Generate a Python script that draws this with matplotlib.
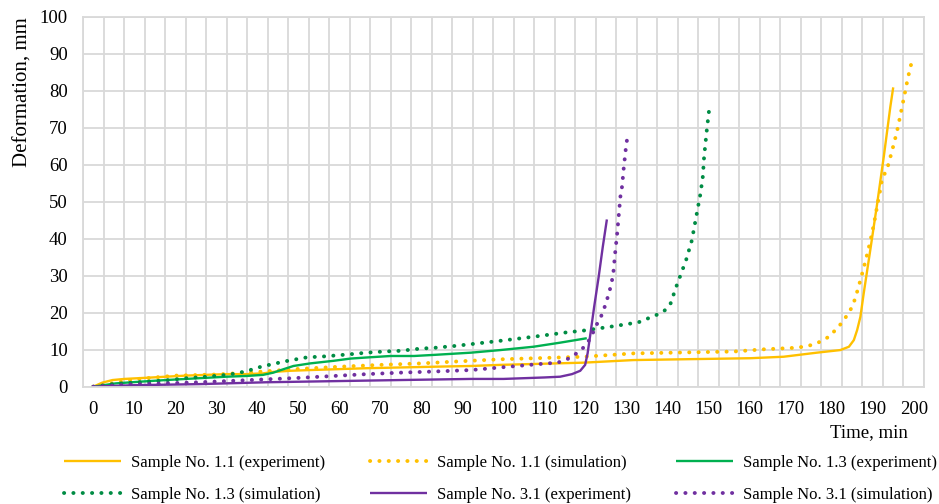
import matplotlib
matplotlib.use("Agg")
import matplotlib.pyplot as plt
import numpy as np
from matplotlib.lines import Line2D

plt.rcParams['font.family'] = ['Liberation Serif', 'DejaVu Serif']

# Sample No. 1.1 (experiment)
t_11_exp = [0, 2.2, 4.7, 7.6, 12.8, 17.7, 22.6, 27.5, 32.4, 37.3, 41.4, 43.9, 48, 52.9, 58.6,
            66.7, 74.9, 83.1, 92.1, 99.2, 119.6, 131.7, 160.2, 168.3, 176.4, 182.1, 184.2,
            185.4, 186.2, 187.0, 187.8, 189.4, 191.1, 192.7, 194.3, 195.0]
d_11_exp = [0, 1.1, 1.8, 2.1, 2.4, 2.7, 3.0, 3.2, 3.4, 3.4, 3.6, 4.0, 4.3, 4.5, 4.7,
            5.0, 5.2, 5.4, 5.6, 5.9, 6.5, 7.2, 7.7, 8.1, 9.2, 9.9, 10.8,
            12.6, 15.3, 18.9, 25.2, 36.9, 49.6, 62.2, 75.7, 80.9]

# Sample No. 1.1 (simulation)
t_11_sim = [0, 10, 20, 30, 40, 50, 60, 70, 80, 90, 99.2, 119.6, 131.7, 156.1, 163.4, 170.8,
            173.2, 175.2, 177.3, 179.3, 180.9, 182.5, 183.8, 185.0, 185.8, 187.0, 188.2,
            189.3, 190.3, 191.1, 191.9, 192.3, 193.5, 194.7, 195.9, 196.8, 197.7, 198.6, 199.7]
d_11_sim = [0, 2.0, 3.0, 3.3, 4.0, 4.8, 5.4, 5.9, 6.3, 6.9, 7.4, 8.1, 9.0, 9.5, 10.1, 10.5,
            10.8, 11.3, 12.2, 13.5, 15.3, 17.3, 19.4, 21.6, 24.1, 28.8, 33.8,
            38.8, 44.0, 48.9, 53.6, 56.3, 58.8, 63.7, 68.9, 73.7, 78.6, 83.6, 88.7]

# Sample No. 1.3 (experiment)
t_13_exp = [0, 5.5, 12, 17.7, 22.6, 27.5, 32.4, 37.3, 41.4, 43.9, 46.3, 48.8, 52.9, 58.6,
            62.7, 66.7, 72.5, 78.2, 83.1, 92.1, 99.2, 107.3, 113.8, 120.3]
d_13_exp = [0, 0.9, 1.4, 1.8, 2.1, 2.4, 2.7, 2.9, 3.2, 3.8, 4.7, 5.6, 6.3, 7.0,
            7.6, 7.9, 8.3, 8.3, 8.6, 9.2, 9.9, 10.8, 11.9, 13.1]

# Sample No. 1.3 (simulation)
t_13_sim = [0, 4.7, 9.6, 13.7, 18.5, 22.6, 27.5, 32.4, 34.9, 37.3, 39.8, 41.4, 43.9, 46.3,
            48.8, 50.4, 52.9, 55.3, 58.6, 61.9, 66.7, 70.8, 74.9, 79.8, 83.1, 88, 92.1,
            99.2, 107.3, 115.5, 119.1, 126.0, 132.9, 137.3, 139.2, 140.7, 142.1, 144.5,
            145.9, 147.2, 148.0, 148.6, 148.9, 149.6, 150.2]
d_13_sim = [0, 0.7, 1.1, 1.4, 1.8, 2.3, 2.7, 3.2, 3.6, 4.2, 5.0, 5.6, 6.1, 6.8,
            7.2, 7.7, 8.0, 8.1, 8.4, 8.7, 9.2, 9.5, 9.7, 10.3, 10.5, 11.0, 11.5,
            12.4, 13.5, 14.7, 15.1, 16.2, 17.4, 19.4, 20.5, 22.4, 27.0, 34.2,
            39.5, 47.3, 52.1, 56.9, 62.2, 69.8, 75.6]

# Sample No. 3.1 (experiment)
t_31_exp = [0, 9.6, 25.9, 42.2, 58.6, 74.9, 92.1, 100, 105, 110, 113.8, 116.7, 118.7, 119.9,
            120.5, 121.2, 122.1, 123.2, 124.2, 125.2]
d_31_exp = [0, 0.4, 0.7, 1.2, 1.5, 1.8, 2.1, 2.1, 2.3, 2.5, 2.7, 3.4, 4.3, 5.9,
            9.0, 14.4, 21.6, 29.7, 37.8, 45.2]

# Sample No. 3.1 (simulation)
t_31_sim = [0, 9.6, 17.7, 25.9, 34.1, 42.2, 50.4, 58.6, 66.7, 74.9, 83.1, 92.1, 99.2, 108.5,
            113.2, 115.5, 117.3, 119.1, 120.5, 121.6, 122.4, 123.6, 124.4, 125.2, 125.9,
            126.4, 126.8, 127.2, 127.7, 128.1, 128.5, 128.9, 129.3, 129.8, 130.1]
d_31_sim = [0, 0.6, 0.9, 1.2, 1.6, 2.0, 2.4, 2.9, 3.4, 3.8, 4.1, 4.5, 5.2, 6.1,
            6.5, 7.4, 8.6, 10.1, 11.9, 14.0, 16.2, 18.5, 20.7, 23.4, 26.1,
            28.4, 31.1, 36.0, 41.3, 46.4, 51.4, 54.1, 59.0, 64.2, 66.7]

x_ticks = list(range(0, 201, 10))
y_ticks = list(range(0, 101, 10))

YELLOW = "#FFC000"
GREEN = "#00B050"
GREEN_DARK = "#008C44"
PURPLE = "#7030A0"

fig = plt.figure(figsize=(9.39, 5.04), dpi=100)
ax = fig.add_axes([83 / 939, 1 - 386.7 / 504, (924 - 83) / 939, (386.7 - 16.7) / 504])

solid_kw = dict(lw=1.7, solid_joinstyle='round', solid_capstyle='butt')
dot_kw = dict(lw=2.8, linestyle=(0, (0.05, 2.35)), dash_capstyle='round')

series = [
    (t_11_exp, d_11_exp, YELLOW, solid_kw, "Sample No. 1.1 (experiment)"),
    (t_11_sim, d_11_sim, YELLOW, dot_kw, "Sample No. 1.1 (simulation)"),
    (t_13_exp, d_13_exp, GREEN, solid_kw, "Sample No. 1.3 (experiment)"),
    (t_13_sim, d_13_sim, GREEN_DARK, dot_kw, "Sample No. 1.3 (simulation)"),
    (t_31_exp, d_31_exp, PURPLE, solid_kw, "Sample No. 3.1 (experiment)"),
    (t_31_sim, d_31_sim, PURPLE, dot_kw, "Sample No. 3.1 (simulation)"),
]
handles, labels = [], []
for t, d, c, kw, name in series:
    ax.plot(t, d, color=c, **kw)
    handles.append(Line2D([], [], color=c, **kw))
    labels.append(name)

ax.set_xlim(-2.5, 202.5)
ax.set_ylim(0, 100)
ax.set_xticks(x_ticks)
ax.set_xticklabels([str(v) for v in x_ticks])
ax.set_xticks(np.arange(-2.5, 203, 5), minor=True)
ax.set_yticks(y_ticks)
ax.tick_params(axis='both', which='both', length=0, labelsize=13.5)
ax.tick_params(axis='x', pad=10)
ax.tick_params(axis='y', pad=11)
ax.grid(False)
ax.grid(True, which='minor', axis='x', color='#D9D9D9', lw=1.3)
ax.grid(True, which='major', axis='y', color='#D9D9D9', lw=1.3)
ax.set_axisbelow(True)
for s in ax.spines.values():
    s.set_color('#D9D9D9')
    s.set_linewidth(1.3)

ax.set_ylabel("Deformation, mm", fontsize=15)
ax.yaxis.set_label_coords(-0.0595, 0.797)
fig.text(908 / 939, 1 - 433 / 504, "Time, min", fontsize=13.5, ha='right', va='center')

# legend fills column by column; reorder so entries read row by row
order = [0, 3, 1, 4, 2, 5]
fig.legend([handles[i] for i in order], [labels[i] for i in order],
           loc='center', bbox_to_anchor=(0.533, 1 - 479 / 504), ncol=3,
           frameon=False, fontsize=12, handlelength=3.4, handletextpad=0.6,
           columnspacing=2.7, labelspacing=0.95)

fig.savefig("out.png", dpi=100)
